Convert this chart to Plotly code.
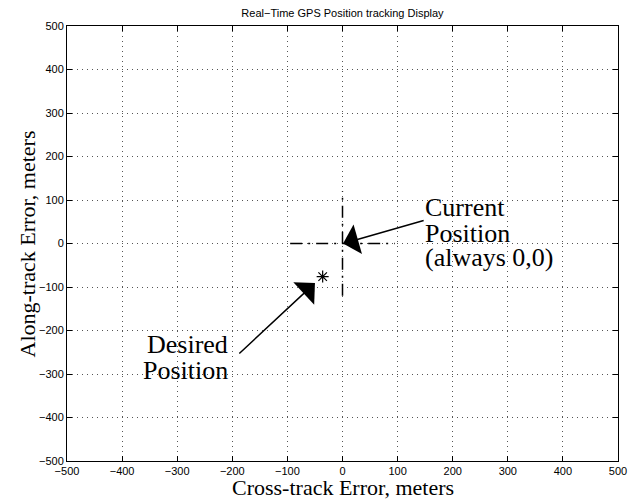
import plotly.graph_objects as go

# data
tick_vals = [-500, -400, -300, -200, -100, 0, 100, 200, 300, 400, 500]
tick_text = ["\u2212500", "\u2212400", "\u2212300", "\u2212200", "\u2212100", "0", "100", "200", "300", "400", "500"]
cross_h_x = [-95, 95]
cross_h_y = [0, 0]
cross_v_x = [0, 0]
cross_v_y = [-120, 120]
desired_x = [-36]
desired_y = [-76]
current_arrow = {"tail": (150, 54), "tip": (1, 0)}
desired_arrow = {"tail": (-190, -256), "tip": (-50, -91)}
current_lines = ["Current", "Position", "(always 0,0)"]
current_lines_y = [82, 24, -33]
desired_lines = ["Desired", "Position"]
desired_lines_y = [-233, -291]

fig = go.Figure()
dash = "12px,6px,2px,6px"
fig.add_trace(go.Scatter(x=cross_h_x, y=cross_h_y, mode="lines",
                         line=dict(color="black", width=1.5, dash=dash), showlegend=False))
fig.add_trace(go.Scatter(x=cross_v_x, y=cross_v_y, mode="lines",
                         line=dict(color="black", width=1.5, dash=dash), showlegend=False))
fig.add_trace(go.Scatter(x=desired_x, y=desired_y, mode="markers",
                         marker=dict(symbol="asterisk-open", size=10, color="black", line=dict(width=1.2, color="black")),
                         showlegend=False))

serif = "Liberation Serif, Times New Roman, serif"
sans = "Liberation Sans, Arial, Helvetica, sans-serif"

for arr in (current_arrow, desired_arrow):
    fig.add_annotation(x=arr["tip"][0], y=arr["tip"][1], ax=arr["tail"][0], ay=arr["tail"][1],
                       xref="x", yref="y", axref="x", ayref="y", text="", showarrow=True,
                       arrowhead=1, arrowsize=3.4, arrowwidth=1.5, arrowcolor="black", standoff=0)

for txt, yy in zip(current_lines, current_lines_y):
    fig.add_annotation(x=146, y=yy, xref="x", yref="y", text=txt,
                       showarrow=False, xanchor="left", yanchor="middle",
                       font=dict(family=serif, size=26, color="black"))
for txt, yy in zip(desired_lines, desired_lines_y):
    fig.add_annotation(x=-204, y=yy, xref="x", yref="y", text=txt,
                       showarrow=False, xanchor="right", yanchor="middle",
                       font=dict(family=serif, size=26, color="black"))

fig.add_annotation(x=0.5, y=-0.06, xref="paper", yref="paper", text="Cross-track Error, meters",
                   showarrow=False, xanchor="center", yanchor="middle",
                   font=dict(family=serif, size=22, color="black"))
fig.add_annotation(x=-0.0708, y=0.5, xref="paper", yref="paper", text="Along-track Error, meters",
                   showarrow=False, xanchor="center", yanchor="middle", textangle=-90,
                   font=dict(family=serif, size=22, color="black"))

axis_common = dict(range=[-500, 500], tickvals=tick_vals, ticktext=tick_text, ticks="inside", ticklen=5,
                   tickcolor="black", showline=True, linecolor="black", linewidth=1, mirror="ticks",
                   showgrid=True, gridcolor="#555555", griddash="1px,4px", gridwidth=1, zeroline=False,
                   tickfont=dict(family=sans, size=11, color="black"))

fig.update_layout(
    width=631, height=492,
    margin=dict(l=59, r=21, t=18, b=39),
    paper_bgcolor="white", plot_bgcolor="white",
    title=dict(text="Real\u2212Time GPS Position tracking Display", x=59 / 631 + 0.5 * 551 / 631, xanchor="center",
               y=1 - 5 / 492, yanchor="middle", font=dict(family=sans, size=11, color="black")),
    xaxis=dict(**axis_common),
    yaxis=dict(**axis_common),
)

fig.write_html("out.html")
